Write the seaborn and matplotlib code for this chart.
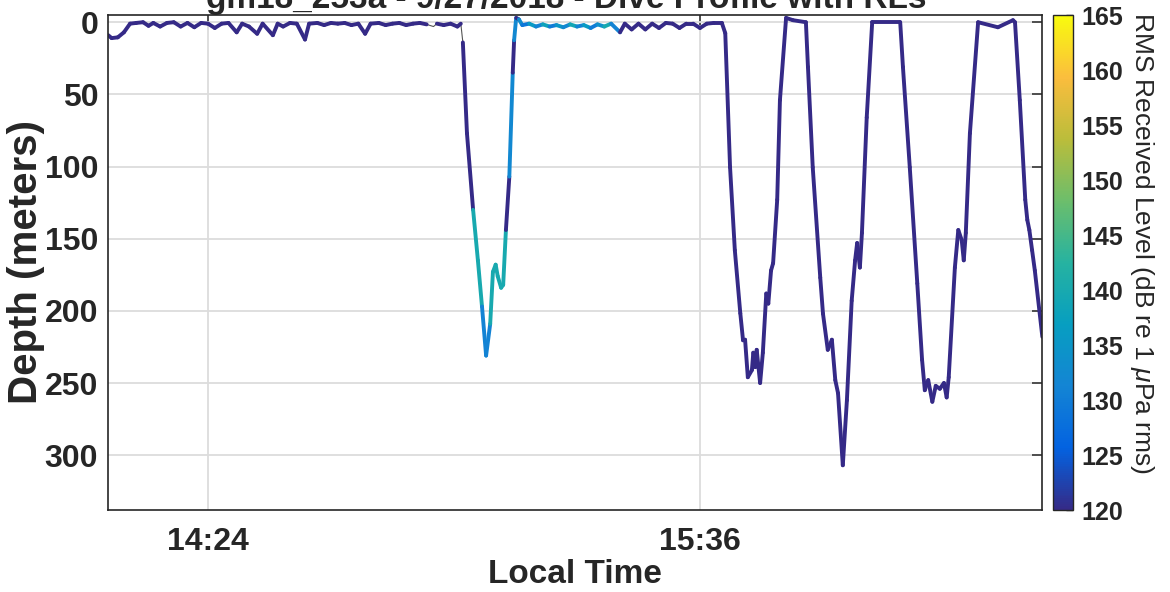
import numpy as np
import pandas as pd
import matplotlib
matplotlib.use("Agg")
import matplotlib.pyplot as plt
import seaborn as sns
from matplotlib.collections import LineCollection
from matplotlib.colors import LinearSegmentedColormap, Normalize

# dive profile; time is minutes after 14:00 local
time_min = [
    9.4, 9.9, 10.8, 11.7, 12.6, 13.5, 14.5, 15.3, 16.0, 17.0, 18.0, 19.0, 20.0,
    21.0, 22.0, 23.0, 24.0, 25.0, 26.0, 27.0, 28.2, 29.0, 30.0, 31.2, 32.0, 33.5,
    34.2, 35.0, 36.0, 37.0, 38.2, 38.8, 40.0, 41.0, 42.0, 43.0, 44.0, 45.0, 46.0,
    47.0, 47.8, 49.0, 50.0, 51.0, 52.0, 53.0, 54.0, 55.0, 56.0, 57.0, 57.5, 58.5,
    59.5, 60.5, 61.0,
    # dive 1
    61.3, 61.9, 62.8, 63.5, 64.1, 64.7, 65.3, 65.7, 66.1, 66.4, 66.9, 67.2, 67.6,
    68.1, 68.6, 68.8, 69.1,
    # surface
    69.5, 70.0, 71.0, 72.0, 73.0, 74.0, 75.0, 76.0, 77.0, 78.0, 79.0, 80.0, 81.0,
    82.0, 83.0, 84.3, 85.0, 86.0, 87.0, 88.0, 89.0, 90.0, 91.0, 92.0, 93.0, 94.0,
    95.0, 96.0, 97.0, 98.0, 99.2,
    # dive 2
    99.7, 100.4, 101.1, 101.9, 102.3, 102.6, 103.0, 103.6, 103.8, 104.1, 104.3,
    104.8, 105.2, 105.7, 106.0, 106.4, 106.7, 107.3, 107.7, 108.6, 109.6, 111.5,
    # dive 3
    111.8, 112.5, 113.6, 114.0, 114.7, 115.3, 115.8, 116.2, 116.9, 117.5, 118.2,
    118.7, 119.0, 119.4, 119.7, 120.4, 121.2, 125.3,
    # dive 4
    125.7, 126.7, 127.8, 128.5, 128.9, 129.4, 130.0, 130.5, 131.1, 131.7, 132.1,
    132.4, 133.3, 133.8, 134.3, 134.6, 134.9, 135.5, 136.7, 139.6, 141.8, 142.1,
    # dive 5
    142.8, 143.6, 143.9, 144.2, 144.6, 145.0, 146.1,
]
depth_m = [
    9.0, 11.0, 10.5, 7.0, 1.0, 0.5, 0.0, 2.5, 0.5, 3.0, 0.5, 0.0, 3.0,
    0.5, 3.5, 0.5, 1.0, 4.0, 1.0, 0.5, 7.0, 1.0, 3.0, 8.0, 1.0, 9.0,
    1.0, 3.0, 0.5, 1.0, 12.0, 1.0, 0.5, 2.0, 0.5, 1.0, 0.5, 2.0, 1.0,
    8.0, 1.0, 0.5, 2.0, 1.0, 0.5, 2.0, 1.0, 0.5, 1.5, 3.0, 1.0, 2.0,
    1.0, 3.0, 1.0,
    14.0, 77.0, 130.0, 165.0, 197.0, 231.0, 209.0, 173.0, 168.0, 176.0, 184.0, 182.0, 144.0,
    107.0, 35.0, 12.5, -3.0,
    -2.0, 2.0, 1.0, 3.0, 1.5, 3.0, 2.0, 3.5, 1.5, 3.0, 2.0, 4.0, 1.5,
    3.0, 1.0, 7.0, 1.0, 5.0, 1.0, 5.0, 1.0, 4.0, 0.5, 1.0, 4.0, 1.0,
    1.0, 4.0, 1.0, 0.5, 0.5,
    7.6, 100.5, 158.0, 201.7, 220.4, 220.0, 246.0, 241.0, 229.0, 239.0, 227.0,
    250.0, 229.0, 188.0, 195.0, 172.0, 167.0, 123.0, 54.0, -3.0, -1.4, 0.0,
    31.0, 100.5, 177.0, 202.0, 227.0, 220.0, 248.0, 257.0, 307.0, 262.0, 193.0,
    165.0, 153.0, 170.0, 146.0, 66.0, 0.0, 0.0,
    31.0, 100.5, 181.0, 234.0, 255.0, 248.0, 263.0, 252.0, 254.0, 250.0, 260.0,
    246.0, 170.0, 144.0, 151.0, 165.0, 146.0, 77.0, 0.0, 3.5, -1.4, 0.0,
    54.0, 123.0, 137.0, 144.0, 158.0, 172.0, 218.0,
]
nan = np.nan
# received level for the segment starting at each point (nan = no RL)
rl_db = (
    [120.0] * 48 + [nan, nan] + [120.0] * 4 + [nan]
    + [120.0, 120.0, 140.0, 140.0, 131.0, 131.0, 140.0, 140.0, 140.0, 140.0, 140.0, 140.0, 120.0,
       132.0, 120.0, 132.0, 120.0]
    + [133.0, 129.0, 136.0, 131.0, 138.0, 130.0, 135.0, 132.0, 139.0, 131.0, 136.0, 130.0, 134.0,
       140.0, 131.0]
    + [120.0] * 16
    + [120.0] * 22 + [120.0] * 18 + [120.0] * 22 + [120.0] * 7
)

time_ticks = [24, 96]
time_labels = ["14:24", "15:36"]
depth_ticks = [0, 50, 100, 150, 200, 250, 300]
rl_ticks = [120, 125, 130, 135, 140, 145, 150, 155, 160, 165]

parula_colors = [
    (0.2081, 0.1663, 0.5292), (0.0117, 0.3875, 0.8820), (0.0780, 0.5200, 0.8300),
    (0.0280, 0.6210, 0.7560), (0.1500, 0.7000, 0.6300), (0.4237, 0.7439, 0.4214),
    (0.7308, 0.7398, 0.2303), (0.9806, 0.7432, 0.2414), (0.9763, 0.9831, 0.0538),
]
parula = LinearSegmentedColormap.from_list("parula", parula_colors)

sns.set_style("white")
plt.rcParams["font.family"] = ["Liberation Sans", "DejaVu Sans"]
plt.rcParams["mathtext.fontset"] = "custom"
plt.rcParams["mathtext.it"] = "Liberation Sans:italic"

df = pd.DataFrame({"time": time_min, "depth": depth_m, "rl": rl_db})

fig = plt.figure(figsize=(11.7, 5.92), dpi=100)
ax = fig.add_axes([108 / 1170, 1 - 510 / 592, (1042 - 108) / 1170, (510 - 15) / 592])
cax = fig.add_axes([1053 / 1170, 1 - 510 / 592, 20 / 1170, (510 - 15) / 592])

ink = "#262626"

# thin base trace, then the RL-coloured segments on top
sns.lineplot(data=df, x="time", y="depth", ax=ax, color="#555555", linewidth=0.8,
             sort=False, estimator=None)

pts = df[["time", "depth"]].to_numpy()
segs = np.stack([pts[:-1], pts[1:]], axis=1)
seg_rl = df["rl"].to_numpy()[:-1]
keep = ~np.isnan(seg_rl)
norm = Normalize(vmin=120, vmax=165)
lc = LineCollection(segs[keep], cmap=parula, norm=norm, linewidth=2.8, capstyle="round",
                    joinstyle="round")
lc.set_array(seg_rl[keep])
ax.add_collection(lc)

ax.set_xlim(9.37, 146.05)
ax.set_ylim(338, -5)
ax.set_xticks(time_ticks)
ax.set_xticklabels(time_labels)
ax.set_yticks(depth_ticks)
ax.set(xlabel=None, ylabel=None)
ax.grid(True, color="#dcdcdc", linewidth=1.3)
ax.set_axisbelow(True)
for s in ax.spines.values():
    s.set_color(ink)
    s.set_linewidth(1.2)
ax.tick_params(direction="in", length=7, width=1.1, colors=ink, top=True, right=True,
               labelsize=23)
ax.tick_params(axis="x", pad=12)
ax.tick_params(axis="y", pad=7)
for lab in ax.get_xticklabels() + ax.get_yticklabels():
    lab.set_fontweight("bold")
ax.set_xlabel("Local Time", fontsize=24, fontweight="bold", color=ink, labelpad=2)
ax.set_ylabel("Depth (meters)", fontsize=29, fontweight="bold", color=ink, labelpad=0)

cb = fig.colorbar(lc, cax=cax, ticks=rl_ticks)
cb.outline.set_edgecolor(ink)
cb.outline.set_linewidth(1.0)
cb.ax.tick_params(direction="in", length=5, width=1, colors=ink, labelsize=18, pad=6)
for lab in cb.ax.get_yticklabels():
    lab.set_fontweight("bold")
cb.set_label(r"RMS Received Level (dB re 1 $\mu$Pa rms)", fontsize=19, color=ink,
             rotation=270, labelpad=24)
cb.ax.yaxis.label.set_y(0.54)

# title sits partly above the figure edge, as in the source image
fig.text(566 / 1170, 1 - 8 / 592, "gm18_253a - 9/27/2018 - Dive Profile with RLs",
         ha="center", va="baseline", fontsize=24, fontweight="bold", color=ink)

fig.savefig("out.png", dpi=100)
